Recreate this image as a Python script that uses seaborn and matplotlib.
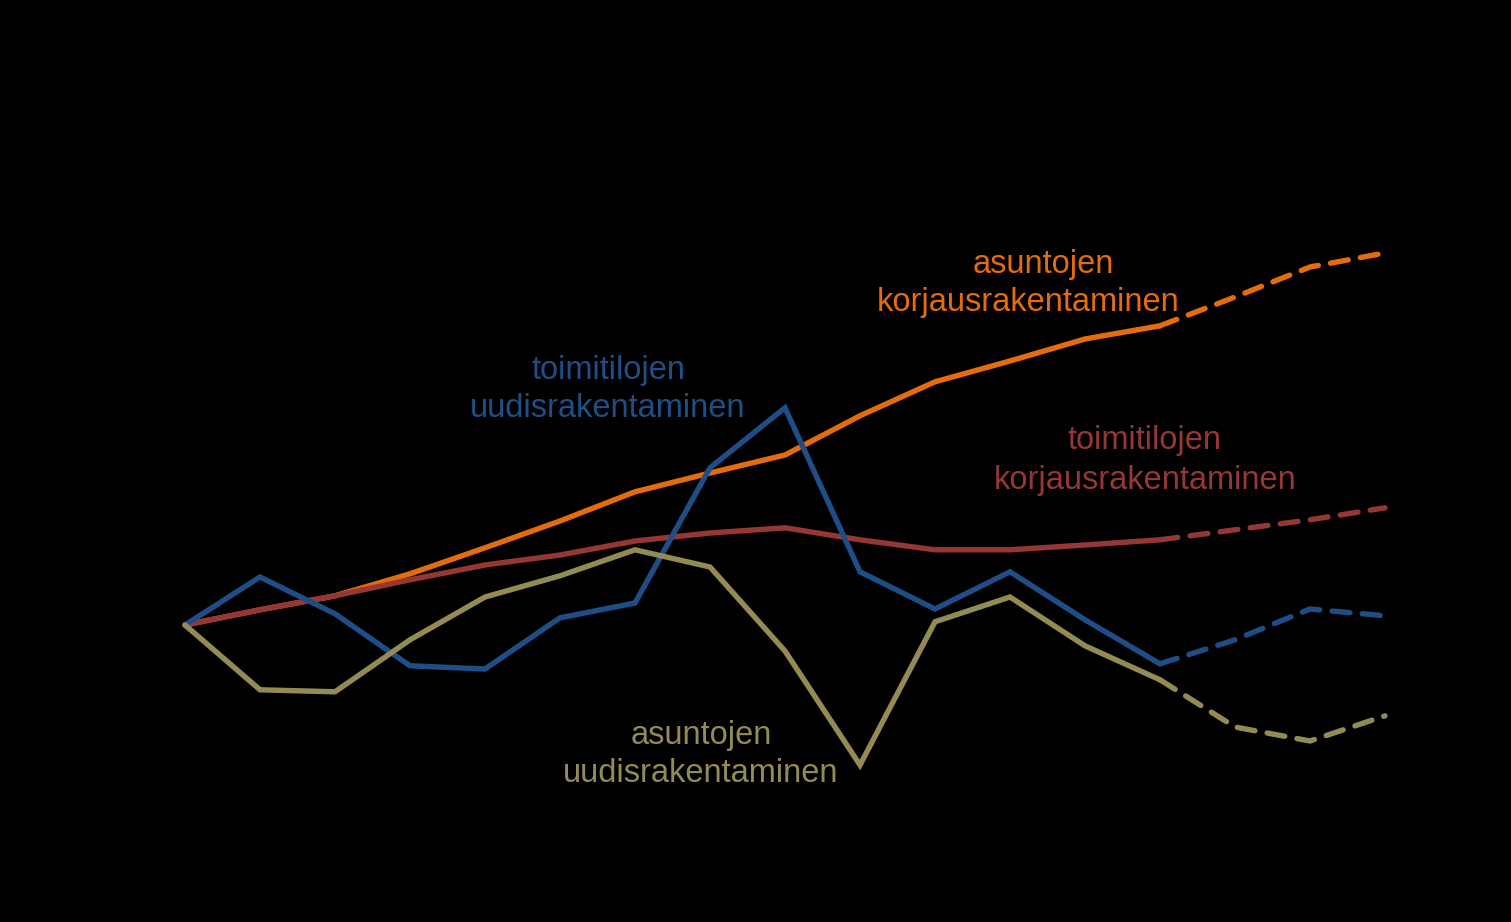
import matplotlib
matplotlib.use("Agg")
import matplotlib.pyplot as plt
import seaborn as sns
import pandas as pd

# ---- data (index values, base year = 100) ----
years = list(range(2000, 2017))
last_actual = 2013  # later years are forecasts (dashed)

asuntojen_korjaus = [100.0, 103.8, 107.3, 112.8, 119.3, 126.0, 133.3, 138.0, 142.5, 152.3, 160.8, 166.0, 171.5, 174.8, 182.0, 189.5, 193.0]
toimitilojen_korjaus = [100.0, 103.8, 107.3, 111.3, 115.0, 117.5, 121.0, 123.0, 124.3, 121.3, 118.8, 118.8, 120.0, 121.3, 123.8, 126.3, 129.3]
toimitilojen_uudis = [100.0, 112.0, 102.8, 89.8, 89.0, 101.8, 105.5, 139.3, 154.3, 113.3, 104.0, 113.3, 101.3, 90.3, 96.3, 104.0, 102.3]
asuntojen_uudis = [100.0, 83.8, 83.3, 96.3, 107.0, 112.3, 118.8, 114.5, 93.5, 65.0, 100.8, 107.0, 94.8, 86.3, 74.5, 71.0, 77.3]

series_names = ["asuntojen korjausrakentaminen", "toimitilojen korjausrakentaminen",
                "toimitilojen uudisrakentaminen", "asuntojen uudisrakentaminen"]
series_values = [asuntojen_korjaus, toimitilojen_korjaus, toimitilojen_uudis, asuntojen_uudis]
labels = [["asuntojen", "korjausrakentaminen"], ["toimitilojen", "korjausrakentaminen"],
          ["toimitilojen", "uudisrakentaminen"], ["asuntojen", "uudisrakentaminen"]]

colors = ["#E46C0A", "#953735", "#1F4E86", "#948A54"]
label_pos = [[(1043, 265), (1028, 303)], [(1145, 441), (1145, 480)],
             [(609, 370), (608, 408)], [(701, 735), (701, 773)]]  # pixel centres

sns.set_theme(style="white")
plt.rcParams["font.family"] = ["Liberation Sans", "DejaVu Sans"]

W, H = 1511, 922
fig = plt.figure(figsize=(W / 100, H / 100), dpi=100, facecolor="black")
ax = fig.add_axes([0, 0, 1, 1])
ax.set_facecolor("black")

rows = []
for name, vals in zip(series_names, series_values):
    for y, v in zip(years, vals):
        rows.append({"series": name, "year": y, "value": v})
df = pd.DataFrame(rows)

for name, col in zip(series_names, colors):
    d = df[df["series"] == name]
    act = d[d["year"] <= last_actual]
    fc = d[d["year"] >= last_actual]
    sns.lineplot(data=act, x="year", y="value", ax=ax, color=col, linewidth=3.9,
                 solid_capstyle="round", solid_joinstyle="miter")
    sns.lineplot(data=fc, x="year", y="value", ax=ax, color=col, linewidth=3.9,
                 dashes=False, linestyle=(0, (3.3, 2.3)), dash_capstyle="round")

# axes mapping so that the plot occupies the same area as the reference
x0_px, dx_px = 185, 75
ax.set_xlim(years[0] - x0_px / dx_px, years[0] + (W - x0_px) / dx_px)
ax.set_ylim(100 - (H - 625) / 4, 100 + 625 / 4)
ax.set_xlabel("")
ax.set_ylabel("")
ax.set_xticks([])
ax.set_yticks([])
for s in ax.spines.values():
    s.set_visible(False)
if ax.get_legend():
    ax.get_legend().remove()

for lab, col, poss in zip(labels, colors, label_pos):
    for line, (px, py) in zip(lab, poss):
        fig.text(px / W, 1 - py / H, line, color=col, fontsize=23.5, ha="center",
                 va="center")

fig.savefig("out.png", dpi=100, facecolor="black")
